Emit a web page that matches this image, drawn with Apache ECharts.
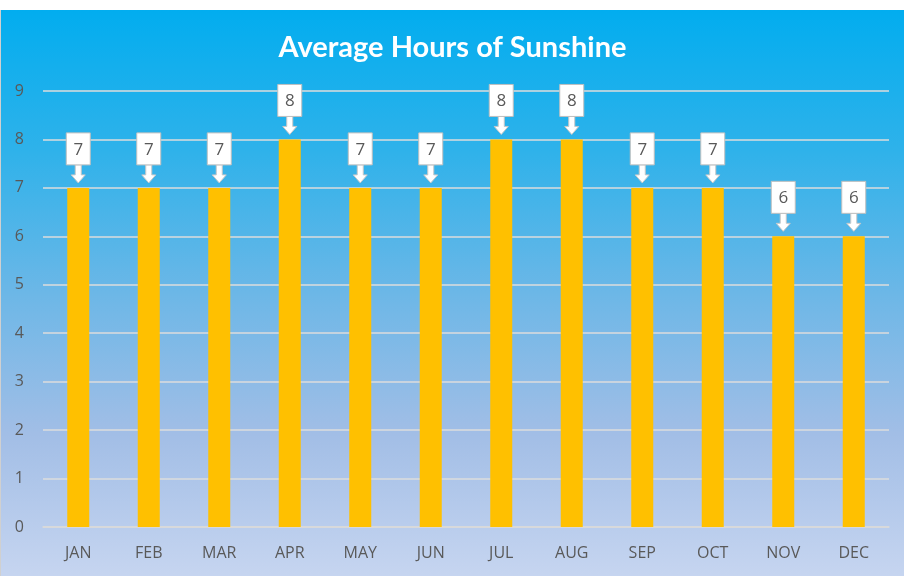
<!DOCTYPE html>
<html>
<head>
<meta charset="utf-8">
<script src="https://cdn.jsdelivr.net/npm/echarts@6/dist/echarts.min.js"></script>
<style>
html,body{margin:0;padding:0;background:#fff;width:904px;height:576px;overflow:hidden;}
#wrap{position:absolute;left:0;top:10px;width:1px;height:566px;background:#d0d0d0;}
#chart{position:absolute;left:1px;top:10px;width:903px;height:566px;}
</style>
</head>
<body>
<div id="wrap"></div>
<div id="chart"></div>
<script>
var titleText = 'Average Hours of Sunshine';
var months = ['JAN','FEB','MAR','APR','MAY','JUN','JUL','AUG','SEP','OCT','NOV','DEC'];
var hours = [7, 7, 7, 8, 7, 7, 8, 8, 7, 7, 6, 6];
var yTicks = [0, 1, 2, 3, 4, 5, 6, 7, 8, 9];

var chart = echarts.init(document.getElementById('chart'), null, {renderer: 'canvas'});

function calloutItem(params, api) {
  var idx = api.value(0);
  var val = api.value(1);
  var p = api.coord([idx, val]);
  var cx = p[0], top = p[1];
  var boxW = 24, boxH = 32;
  var boxBottom = top - 23;
  var boxTop = boxBottom - boxH;
  var tip = top - 5;
  var shaftHalf = 3, headHalf = 7, headH = 8;
  return {
    type: 'group',
    children: [
      {
        type: 'polygon',
        shape: {
          points: [
            [cx - shaftHalf, boxBottom],
            [cx + shaftHalf, boxBottom],
            [cx + shaftHalf, tip - headH],
            [cx + headHalf, tip - headH],
            [cx, tip],
            [cx - headHalf, tip - headH],
            [cx - shaftHalf, tip - headH]
          ]
        },
        style: {fill: '#ffffff', stroke: '#c8c8c8', lineWidth: 1}
      },
      {
        type: 'rect',
        shape: {x: cx - boxW / 2, y: boxTop, width: boxW, height: boxH},
        style: {fill: '#ffffff', stroke: '#bfbfbf', lineWidth: 1}
      },
      {
        type: 'text',
        style: {
          text: String(val),
          x: cx,
          y: boxTop + boxH / 2 + 1,
          align: 'center',
          verticalAlign: 'middle',
          fill: '#595959',
          font: '17px "Open Sans", sans-serif'
        }
      }
    ]
  };
}

chart.setOption({
  animation: false,
  backgroundColor: {
    type: 'linear', x: 0, y: 0, x2: 0, y2: 1,
    colorStops: [
      {offset: 0, color: '#02adef'},
      {offset: 0.25, color: '#2fb2ea'},
      {offset: 0.5, color: '#6cb7e7'},
      {offset: 0.75, color: '#a2bee6'},
      {offset: 1, color: '#c6d5f0'}
    ]
  },
  title: {
    text: titleText,
    left: 'center',
    top: 18,
    textStyle: {
      color: '#ffffff',
      fontFamily: 'Lato, "Open Sans", sans-serif',
      fontWeight: 'bold',
      fontSize: 29
    }
  },
  grid: {left: 42, right: 15, top: 81, bottom: 49, containLabel: false},
  xAxis: {
    type: 'category',
    data: months,
    axisTick: {show: false},
    axisLine: {show: true, lineStyle: {color: '#d9d9d9', width: 1.5}},
    axisLabel: {color: '#595959', fontSize: 16, margin: 18, fontFamily: '"Open Sans", sans-serif'}
  },
  yAxis: {
    type: 'value',
    min: yTicks[0],
    max: yTicks[yTicks.length - 1],
    interval: 1,
    axisLine: {show: false},
    axisTick: {show: false},
    axisLabel: {color: '#595959', fontSize: 16, margin: 19, fontFamily: '"Open Sans", sans-serif'},
    splitLine: {lineStyle: {color: '#dcdcdc', width: 1.5}}
  },
  series: [
    {
      type: 'bar',
      data: hours,
      barWidth: 22,
      itemStyle: {color: '#ffc000'},
      z: 2
    },
    {
      type: 'custom',
      data: hours.map(function (v, i) { return [i, v]; }),
      renderItem: calloutItem,
      clip: false,
      z: 5,
      silent: true
    }
  ]
});
</script>
</body>
</html>
